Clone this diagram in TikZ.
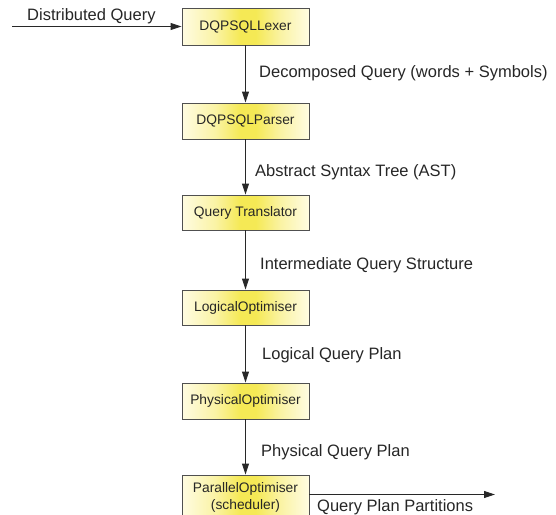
\documentclass[tikz,border=0pt]{standalone}
\usepackage{fontspec}
\setmainfont{Liberation Sans}
\usetikzlibrary{arrows.meta}
\definecolor{boxyellow}{RGB}{245,233,85}
\definecolor{boxmid}{RGB}{250,243,165}
\definecolor{boxpale}{RGB}{255,252,226}
\definecolor{linegray}{RGB}{40,40,40}
\definecolor{bordergray}{RGB}{80,80,80}
\pgfdeclarehorizontalshading{boxshade}{100bp}{color(0bp)=(boxpale); color(25bp)=(boxpale); color(38bp)=(boxmid); color(48bp)=(boxyellow); color(54bp)=(boxyellow); color(64bp)=(boxmid); color(75bp)=(boxpale); color(100bp)=(boxpale)}
\tikzset{
  procbox/.style={draw=bordergray, line width=0.9pt, minimum width=127pt, inner sep=0pt,
    shading=boxshade, shading angle=0,
    font=\fontsize{13.8pt}{17pt}\selectfont, text=black!85, align=center},
  flowarrow/.style={draw=linegray, line width=0.9pt, -{Triangle[length=11pt,width=7pt]}},
  flowlabel/.style={anchor=west, inner sep=0pt, font=\fontsize{16.5pt}{19pt}\selectfont, text=black!85}
}
\begin{document}
\begin{tikzpicture}[x=1pt,y=-1pt]
\useasboundingbox (0,0) rectangle (556,514);
\node[procbox, minimum height=37pt] (b1) at (245.5,26.5) {DQPSQLLexer};
\node[procbox, minimum height=36pt] (b2) at (245.5,121) {DQPSQLParser};
\node[procbox, minimum height=35pt] (b3) at (245.5,212.5) {Query Translator};
\node[procbox, minimum height=35pt] (b4) at (245.5,307.5) {LogicalOptimiser};
\node[procbox, minimum height=36pt] (b5) at (245.5,401) {PhysicalOptimiser};
\node[procbox, minimum height=44pt] (b6) at (245.5,497) {ParallelOptimiser\\(scheduler)};

\coordinate (in) at (12,26.5);
\coordinate (out) at (495,494.5);
\draw[flowarrow] (in) -- (b1.west);
\draw[flowarrow] (b1) -- (b2);
\draw[flowarrow] (b2) -- (b3);
\draw[flowarrow] (b3) -- (b4);
\draw[flowarrow] (b4) -- (b5);
\draw[flowarrow] (b5) -- (b6);
\draw[flowarrow] (b6.east |- out) -- (out);

\node[flowlabel] (l0) at (27,16) {Distributed Query};
\node[flowlabel] (l1) at (259,73) {Decomposed Query (words + Symbols)};
\node[flowlabel] (l2) at (255,172) {Abstract Syntax Tree (AST)};
\node[flowlabel] (l3) at (260,265) {Intermediate Query Structure};
\node[flowlabel] (l4) at (262,355) {Logical Query Plan};
\node[flowlabel] (l5) at (261,452) {Physical Query Plan};
\node[flowlabel] (l6) at (317,507) {Query Plan Partitions};
\end{tikzpicture}
\end{document}
